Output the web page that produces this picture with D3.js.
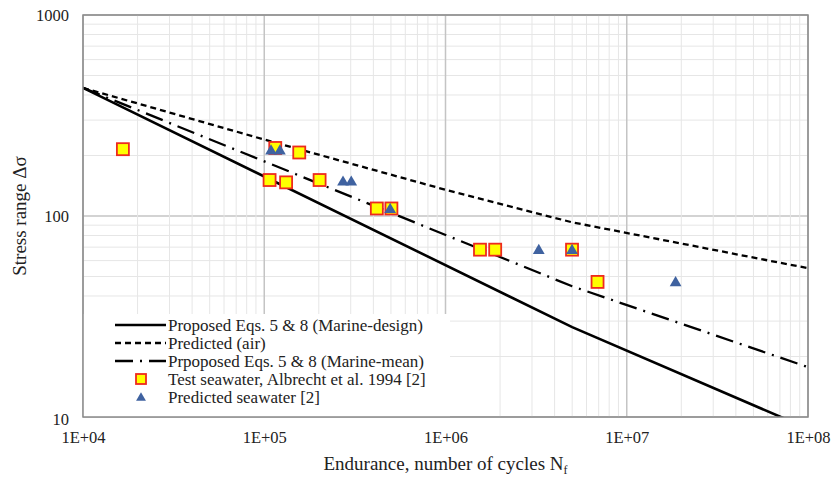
<!DOCTYPE html>
<html>
<head>
<meta charset="utf-8">
<script src="https://cdn.jsdelivr.net/npm/d3@7"></script>
<style>
  body { margin: 0; background: #fff; }
  svg text { font-family: 'Liberation Serif', 'Times New Roman', Times, serif; fill: #222; }
</style>
</head>
<body>
<div id="chart"></div>
<script>
var svgWidth = 839;
var svgHeight = 481;

var margin = { top: 15, right: 31, bottom: 64, left: 83 };
var width = svgWidth - margin.left - margin.right;
var height = svgHeight - margin.top - margin.bottom;

// tick labels
var xTickValues = [1e4, 1e5, 1e6, 1e7, 1e8];
var xTickLabels = ["1E+04", "1E+05", "1E+06", "1E+07", "1E+08"];
var yTickValues = [10, 100, 1000];
var yTickLabels = ["10", "100", "1000"];

// curves (cycles, stress range)
var designN = [1e4, 5e6, 1e8];
var designS = [434, 28, 8.75];
var airN = [1e4, 1e5, 1e6, 5e6, 1e8];
var airS = [434, 240, 135, 93, 55];
var meanN = [1e4, 5e6, 1e8];
var meanS = [434, 44.7, 17.7];

// test seawater, Albrecht et al. 1994
var testN = [1.66e4, 1.15e5, 1.07e5, 1.32e5, 1.56e5, 2.02e5, 4.18e5, 5.03e5, 1.55e6, 1.88e6, 4.99e6, 6.9e6];
var testS = [215, 218, 151, 147, 207, 151, 109, 109, 68, 68, 68, 47];

// predicted seawater
var predN = [1.09e5, 1.22e5, 2.72e5, 3.02e5, 4.95e5, 3.27e6, 4.99e6, 1.86e7];
var predS = [213, 213, 149, 149, 109, 68, 68, 47];

var legendLabels = [
  "Proposed Eqs. 5 & 8 (Marine-design)",
  "Predicted (air)",
  "Prpoposed Eqs. 5 & 8 (Marine-mean)",
  "Test seawater, Albrecht et al. 1994 [2]",
  "Predicted seawater [2]"
];

var serif = "'Liberation Serif', 'Times New Roman', serif";

var svg = d3.select("#chart")
  .append("svg")
  .attr("width", svgWidth)
  .attr("height", svgHeight);

var chartGroup = svg.append("g")
  .attr("transform", `translate(${margin.left}, ${margin.top})`);

var x = d3.scaleLog().domain([1e4, 1e8]).range([0, width]);
var y = d3.scaleLog().domain([10, 1000]).range([height, 0]);

var isMajor = v => Math.abs(Math.log10(v) - Math.round(Math.log10(v))) < 1e-9;

// grid
chartGroup.append("g").selectAll("line")
  .data(y.ticks())
  .enter().append("line")
  .attr("x1", 0).attr("x2", width)
  .attr("y1", d => y(d)).attr("y2", d => y(d))
  .attr("stroke", d => isMajor(d) ? "#c4c4c4" : "#e6e6e6")
  .attr("stroke-width", d => isMajor(d) ? 1.5 : 1);

chartGroup.append("g").selectAll("line")
  .data(x.ticks())
  .enter().append("line")
  .attr("y1", 0).attr("y2", height)
  .attr("x1", d => x(d)).attr("x2", d => x(d))
  .attr("stroke", d => isMajor(d) ? "#c4c4c4" : "#e6e6e6")
  .attr("stroke-width", d => isMajor(d) ? 1.5 : 1);

// legend background hides the grid
var legendBox = { x0: 0, y0: 299, x1: 367 };
chartGroup.append("rect")
  .attr("x", legendBox.x0)
  .attr("y", legendBox.y0)
  .attr("width", legendBox.x1 - legendBox.x0)
  .attr("height", height - legendBox.y0)
  .attr("fill", "#fff");

// clip for curves
svg.append("defs").append("clipPath").attr("id", "plotClip")
  .append("rect").attr("width", width).attr("height", height);

var line = d3.line().x(d => x(d[0])).y(d => y(d[1]));
var curves = [
  { n: designN, s: designS, dash: null },
  { n: airN, s: airS, dash: "6,4" },
  { n: meanN, s: meanS, dash: "18,7,2,7" }
];
var curveGroup = chartGroup.append("g").attr("clip-path", "url(#plotClip)");
curves.forEach(c => {
  curveGroup.append("path")
    .datum(d3.zip(c.n, c.s))
    .attr("d", line)
    .attr("fill", "none")
    .attr("stroke", "#000")
    .attr("stroke-width", c.dash ? 2.3 : 2.6)
    .attr("stroke-dasharray", c.dash);
});

// markers
var squareSize = 12;
chartGroup.append("g").selectAll("rect")
  .data(d3.zip(testN, testS))
  .enter().append("rect")
  .attr("x", d => x(d[0]) - squareSize / 2)
  .attr("y", d => y(d[1]) - squareSize / 2)
  .attr("width", squareSize)
  .attr("height", squareSize)
  .attr("fill", "#ffff00")
  .attr("stroke", "#ee2a1e")
  .attr("stroke-width", 1.8);

var triangle = d3.symbol().type(d3.symbolTriangle).size(60);
chartGroup.append("g").selectAll("path")
  .data(d3.zip(predN, predS))
  .enter().append("path")
  .attr("d", triangle)
  .attr("transform", d => `translate(${x(d[0])}, ${y(d[1]) + 1})`)
  .attr("fill", "#3f62a0");

// plot border
chartGroup.append("rect")
  .attr("width", width).attr("height", height)
  .attr("fill", "none")
  .attr("stroke", "#8a8a8a")
  .attr("stroke-width", 1.5);

// axes
var bottomAxis = d3.axisBottom(x)
  .tickValues(xTickValues)
  .tickFormat((d, i) => xTickLabels[i])
  .tickSize(0).tickPadding(14);
var leftAxis = d3.axisLeft(y)
  .tickValues(yTickValues)
  .tickFormat((d, i) => yTickLabels[i])
  .tickSize(0).tickPadding(14);

var xAxisG = chartGroup.append("g")
  .attr("transform", `translate(0, ${height})`)
  .call(bottomAxis);
var yAxisG = chartGroup.append("g").call(leftAxis);
[xAxisG, yAxisG].forEach(g => {
  g.attr("font-family", serif);
  g.select(".domain").remove();
  g.selectAll("text")
    .style("font-family", serif)
    .attr("font-size", "16.5px")
    .attr("fill", "#222");
});
yAxisG.selectAll("text").attr("dy", (d, i) => i === 0 ? "0.45em" : "0.32em");

// legend
var legendRowY = [11, 29, 47, 65, 83];
var legendG = chartGroup.append("g").attr("transform", `translate(0, ${legendBox.y0})`);
legendLabels.forEach((label, i) => {
  var ry = legendRowY[i];
  if (i < 3) {
    legendG.append("line")
      .attr("x1", 32).attr("x2", 83)
      .attr("y1", ry).attr("y2", ry)
      .attr("stroke", "#000")
      .attr("stroke-width", i === 0 ? 2.6 : 2.3)
      .attr("stroke-dasharray", curves[i].dash);
  } else if (i === 3) {
    legendG.append("rect")
      .attr("x", 53).attr("y", ry - 5)
      .attr("width", 10).attr("height", 10)
      .attr("fill", "#ffff00")
      .attr("stroke", "#ee2a1e")
      .attr("stroke-width", 1.8);
  } else {
    legendG.append("path")
      .attr("d", d3.symbol().type(d3.symbolTriangle).size(42))
      .attr("transform", `translate(58, ${ry + 1})`)
      .attr("fill", "#3f62a0");
  }
  legendG.append("text")
    .attr("x", 85)
    .attr("y", ry)
    .attr("dy", "0.33em")
    .style("font-family", serif)
    .attr("font-size", "17px")
    .text(label);
});

// axis titles
chartGroup.append("text")
  .attr("transform", `translate(${width / 2}, ${height + 53})`)
  .attr("text-anchor", "middle")
  .style("font-family", serif)
  .attr("font-size", "19px")
  .text("Endurance, number of cycles N")
  .append("tspan")
  .attr("font-size", "12px")
  .attr("dy", "4")
  .text("f");

chartGroup.append("text")
  .attr("transform", `translate(${-margin.left + 26}, ${height / 2}) rotate(-90)`)
  .attr("text-anchor", "middle")
  .style("font-family", serif)
  .attr("font-size", "19px")
  .text("Stress range \u0394\u03c3");
</script>
</body>
</html>
